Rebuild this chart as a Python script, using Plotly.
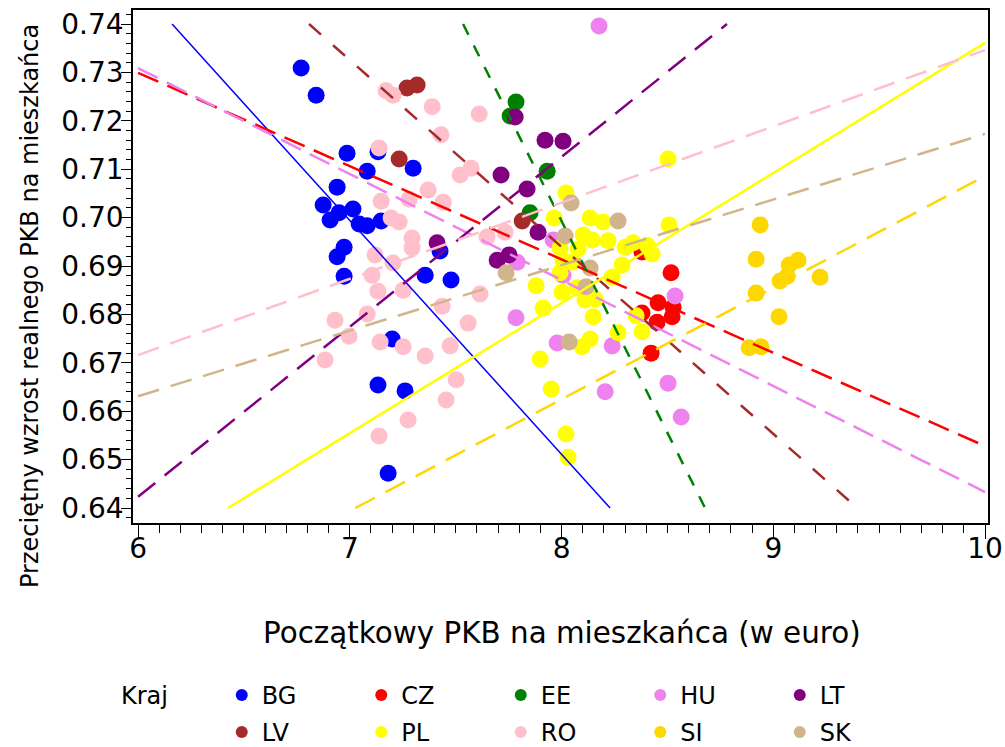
import plotly.graph_objects as go

countries = ["BG", "CZ", "EE", "HU", "LT", "LV", "PL", "RO", "SI", "SK"]
colors = ["#0000FF", "#FF0000", "#008000", "#EE82EE", "#800080",
          "#A52A2A", "#FFFF00", "#FFC0CB", "#FFD700", "#D2B48C"]

bg_x = [6.770, 6.841, 6.987, 7.133, 7.082, 7.299, 6.940, 6.874, 7.015, 6.949, 6.907, 7.044,
        7.082, 7.148, 6.973, 6.940, 6.973, 7.356, 7.478, 7.426, 7.200, 7.133, 7.261, 7.181]
bg_y = [0.7309, 0.7253, 0.7133, 0.7136, 0.7096, 0.7102, 0.7063, 0.7026, 0.7018, 0.7010, 0.6995, 0.6987,
        0.6983, 0.6993, 0.6939, 0.6919, 0.6879, 0.6881, 0.6871, 0.6931, 0.6749, 0.6654, 0.6642, 0.6472]

cz_x = [8.517, 8.456, 8.527, 8.380, 8.451, 8.522, 8.423, 8.380]
cz_y = [0.6886, 0.6824, 0.6815, 0.6803, 0.6784, 0.6795, 0.6720, 0.6929]

ee_x = [7.785, 7.757, 7.932, 7.851]
ee_y = [0.7239, 0.7210, 0.7096, 0.7010]

hu_x = [8.177, 8.536, 7.785, 7.979, 8.239, 8.503, 8.206, 8.565, 7.960, 7.790, 8.007]
hu_y = [0.7396, 0.6838, 0.6793, 0.6741, 0.6735, 0.6658, 0.6640, 0.6588, 0.6954, 0.6908, 0.6881]

lt_x = [7.781, 7.922, 8.007, 7.714, 7.837, 7.889, 7.412, 7.696, 7.752]
lt_y = [0.7208, 0.7160, 0.7158, 0.7088, 0.7059, 0.6970, 0.6948, 0.6912, 0.6923]

lv_x = [7.270, 7.318, 7.233, 7.814]
lv_y = [0.7268, 0.7274, 0.7121, 0.6993]

pl_x = [8.503, 8.508, 8.021, 7.965, 8.135, 8.196, 8.102, 8.144, 8.220, 7.993, 8.078, 8.300,
        8.338, 8.404, 8.428, 8.007, 8.050, 8.286, 7.993, 7.880, 8.239, 8.003, 8.073, 8.111,
        8.158, 8.149, 8.352, 8.380, 8.267, 7.913, 8.135, 8.097, 7.899, 7.951, 8.021, 8.031]
pl_y = [0.7121, 0.6985, 0.7051, 0.6999, 0.6999, 0.6991, 0.6964, 0.6954, 0.6952, 0.6937, 0.6935, 0.6939,
        0.6948, 0.6943, 0.6925, 0.6912, 0.6908, 0.6902, 0.6886, 0.6859, 0.6877, 0.6846, 0.6855, 0.6830,
        0.6832, 0.6795, 0.6797, 0.6764, 0.6762, 0.6813, 0.6749, 0.6733, 0.6708, 0.6646, 0.6553, 0.6505]

ro_x = [7.171, 7.204, 7.389, 7.611, 7.431, 7.138, 7.521, 7.573, 7.370, 7.441, 7.280, 7.148,
        7.195, 7.233, 7.294, 7.294, 7.119, 7.204, 7.105, 7.133, 7.252, 7.082, 6.930, 6.997,
        7.143, 7.252, 6.883, 7.356, 7.474, 7.559, 7.436, 7.615, 7.502, 7.455, 7.275, 7.138,
        7.648, 7.733]
ro_y = [0.7262, 0.7253, 0.7229, 0.7214, 0.7171, 0.7144, 0.7088, 0.7102, 0.7057, 0.7032, 0.7038, 0.7034,
        0.6999, 0.6991, 0.6958, 0.6937, 0.6923, 0.6906, 0.6881, 0.6848, 0.6850, 0.6801, 0.6788, 0.6755,
        0.6743, 0.6733, 0.6706, 0.6714, 0.6735, 0.6782, 0.6817, 0.6842, 0.6665, 0.6623, 0.6582, 0.6549,
        0.6960, 0.6970]

si_x = [8.938, 8.919, 9.117, 9.075, 9.065, 9.032, 9.221, 8.919, 9.027, 8.886, 8.942]
si_y = [0.6985, 0.6914, 0.6912, 0.6902, 0.6879, 0.6869, 0.6877, 0.6844, 0.6795, 0.6731, 0.6733]

sk_x = [8.045, 8.267, 8.017, 8.135, 8.116, 7.738, 8.036]
sk_y = [0.7030, 0.6993, 0.6962, 0.6896, 0.6857, 0.6886, 0.6743]

# regression lines per country: y = intercept + slope * x
fit_slope = [-0.04834, -0.01928, -0.0875, -0.0219, 0.03512, -0.03862, 0.02688, 0.01575, 0.02307, 0.01355]
fit_intercept = [1.0378, 0.8456, 1.3993, 0.8623, 0.4316, 1.0029, 0.4673, 0.5771, 0.4779, 0.5818]

x_title = "Początkowy PKB na mieszkańca (w euro)"
y_title = "Przeciętny wzrost realnego PKB na mieszkańca"
legend_title = "Kraj"

xs = [bg_x, cz_x, ee_x, hu_x, lt_x, lv_x, pl_x, ro_x, si_x, sk_x]
ys = [bg_y, cz_y, ee_y, hu_y, lt_y, lv_y, pl_y, ro_y, si_y, sk_y]

line_dash = ["solid", "22px,10px", "12px,12px", "22px,10px", "22px,12px",
             "16px,16px", "solid", "22px,12px", "22px,12px", "22px,12px"]
line_width = [1.5, 2.5, 2.5, 2.5, 2.5, 2.5, 2.5, 2.5, 2.5, 2.5]

X0, X1, Y0, Y1 = 6.0, 10.0, 0.64, 0.74

def clip_line(m, b):
    xa, xb = X0, X1
    if m != 0:
        xl = (Y0 - b) / m
        xh = (Y1 - b) / m
        lo, hi = min(xl, xh), max(xl, xh)
        xa, xb = max(xa, lo), min(xb, hi)
    return [xa, xb], [b + m * xa, b + m * xb]

font_family = "DejaVu Sans"
fig = go.Figure()

for i, c in enumerate(countries):
    fig.add_trace(go.Scatter(
        x=xs[i], y=ys[i], mode="markers", name=c,
        marker=dict(color=colors[i], size=17, line=dict(width=0)),
        legend="legend" if i < 5 else "legend2",
        legendrank=i))

for i, c in enumerate(countries):
    lx, ly = clip_line(fit_slope[i], fit_intercept[i])
    fig.add_trace(go.Scatter(
        x=lx, y=ly, mode="lines", showlegend=False, hoverinfo="skip",
        line=dict(color=colors[i], width=line_width[i], dash=line_dash[i])))

W, H = 1005, 747
L, R, T, B = 133, 17, 10, 224
pw, ph = W - L - R, H - T - B

def px_x(p):
    return (p - L) / pw

def px_y(p):
    return 1 - (p - T) / ph

legend_common = dict(
    orientation="h", xanchor="left", yanchor="top",
    font=dict(size=24), itemsizing="constant",
    entrywidth=94.5, entrywidthmode="pixels", tracegroupgap=0,
    traceorder="normal", bgcolor="rgba(0,0,0,0)")

fig.update_layout(
    width=W, height=H,
    margin=dict(l=L, r=R, t=T, b=B, autoexpand=False),
    paper_bgcolor="white", plot_bgcolor="white",
    font=dict(family=font_family, size=24, color="black"),
    showlegend=True,
    legend=dict(x=px_x(119), y=px_y(673),
                title=dict(text=legend_title + "      ", side="left", font=dict(size=24)),
                **legend_common),
    legend2=dict(x=px_x(119), y=px_y(710),
                 title=dict(text=legend_title + "      ", side="left",
                            font=dict(size=24, color="rgba(255,255,255,0)")),
                 **legend_common),
    annotations=[
        dict(text=x_title, xref="paper", yref="paper", x=px_x(562), y=px_y(633),
             xanchor="center", yanchor="middle", showarrow=False, font=dict(size=29.4)),
        dict(text=y_title, xref="paper", yref="paper", x=px_x(30), y=px_y(306),
             xanchor="center", yanchor="middle", showarrow=False, textangle=-90, font=dict(size=24)),
    ],
)

fig.update_xaxes(
    range=[5.976, 10.014], tickmode="array", tickvals=[6, 7, 8, 9, 10],
    ticktext=["6", "7", "8", "9", "10"], automargin=False,
    showgrid=False, zeroline=False, showline=True, linecolor="black", linewidth=1.5,
    mirror=True, ticks="outside", ticklen=14, tickcolor="black",
    tickfont=dict(size=28), ticklabelstandoff=-14,
    minor=dict(dtick=0.1, tick0=6, ticks="outside", ticklen=8, tickcolor="black", showgrid=False))

fig.update_yaxes(
    range=[0.6369, 0.7429], tickmode="linear", tick0=0.64, dtick=0.01, tickformat=".2f",
    automargin=False,
    showgrid=False, zeroline=False, showline=True, linecolor="black", linewidth=1.5,
    mirror=True, ticks="outside", ticklen=10, tickcolor="black",
    tickfont=dict(size=28), ticklabelstandoff=-8,
    minor=dict(dtick=0.002, tick0=0.64, ticks="outside", ticklen=5, tickcolor="black", showgrid=False))

fig.write_html("out.html", config={"displayModeBar": False},
               post_script="document.body.style.margin='0';")
